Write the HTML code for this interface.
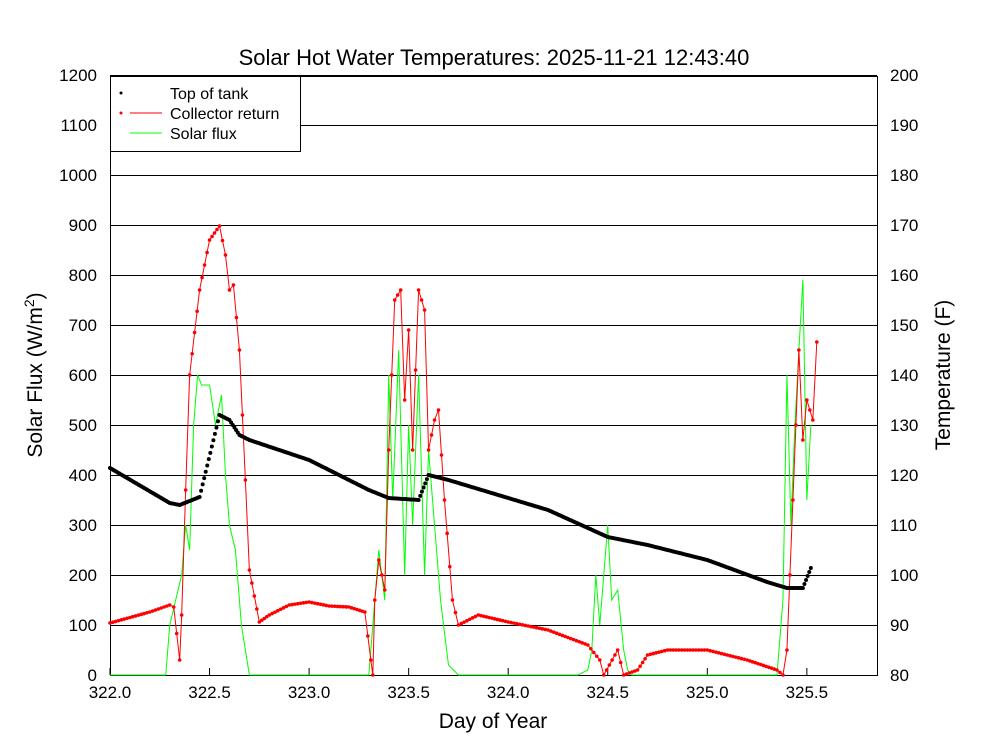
<!DOCTYPE html>
<html><head><meta charset="utf-8"><style>
body{margin:0;background:#fff}
svg text{font-family:"Liberation Sans",sans-serif;fill:#000}
</style></head><body>
<svg id="c" width="988" height="751" xmlns="http://www.w3.org/2000/svg"></svg>
<script>
const xTicks=[322.0,322.5,323.0,323.5,324.0,324.5,325.0,325.5];
const yTicks=[0,100,200,300,400,500,600,700,800,900,1000,1100,1200];
const y2Ticks=[80,90,100,110,120,130,140,150,160,170,180,190,200];
const tankX=[322.0,322.3,322.35,322.45,322.55,322.6,322.65,322.7,323.0,323.3,323.4,323.55,323.6,323.7,323.9,324.2,324.5,324.7,325.0,325.3,325.4,325.48,325.52];
const tankF=[121.4,114.4,114,115.6,132,131,128,127,123,117,115.4,115,120,119,116.6,113,107.6,106,103,98.6,97.4,97.4,101.4];
const collX=[322.0,322.2,322.3,322.32,322.35,322.36,322.38,322.4,322.45,322.5,322.55,322.58,322.6,322.62,322.65,322.68,322.7,322.75,322.8,322.9,323.0,323.1,323.2,323.28,323.31,323.32,323.33,323.35,323.38,323.4,323.43,323.46,323.48,323.5,323.52,323.55,323.58,323.6,323.63,323.65,323.68,323.72,323.75,323.85,324.0,324.2,324.4,324.46,324.48,324.55,324.58,324.65,324.7,324.8,325.0,325.2,325.35,325.38,325.4,325.43,325.46,325.48,325.5,325.53,325.55];
const collF=[90.4,92.6,94,93.6,83,92,117,140,157,167,169.8,164,157,158,145,119,101,90.6,92,94,94.6,93.8,93.6,92.6,83,80,95,103,97,125,155,157,135,149,125,157,153,125,131,133,115,95,90,92,90.6,89,86,83,80,85,80,81,84,85,85,83,81,80,85,115,145,127,135,131,146.6];
const fluxX=[322.0,322.28,322.3,322.33,322.36,322.38,322.4,322.42,322.44,322.46,322.5,322.53,322.56,322.58,322.6,322.63,322.66,322.7,323.3,323.32,323.35,323.38,323.4,323.42,323.45,323.48,323.5,323.52,323.55,323.58,323.6,323.63,323.66,323.7,323.75,324.35,324.4,324.42,324.44,324.46,324.5,324.52,324.55,324.58,324.6,324.62,325.35,325.38,325.4,325.42,325.44,325.46,325.48,325.5,325.52];
const fluxV=[0,0,100,150,200,300,250,500,600,580,580,500,560,400,300,250,100,0,0,100,250,150,600,350,650,200,500,300,600,200,450,300,150,20,0,0,10,50,200,100,300,150,170,50,10,0,0,150,600,300,500,650,790,350,500];
const L=110,R=877,T=76,B=675;
const sx=d=>L+(d-322)*199.1;
const sy=v=>B-v*0.5;
const sy2=f=>B-(f-80)*5;
const svg=document.getElementById('c');
const NS='http://www.w3.org/2000/svg';
function mk(tag,at,txt){const e=document.createElementNS(NS,tag);for(const k in at)e.setAttribute(k,at[k]);if(txt!==undefined)e.textContent=txt;svg.appendChild(e);return e;}
yTicks.forEach(v=>{
 const g=mk('line',{x1:L,x2:R,y1:sy(v)+0.5,y2:sy(v)+0.5,stroke:'#000','stroke-width':1});
 
 
 const t=mk('text',{x:L-13,y:sy(v)+6,'text-anchor':'end','font-size':17},String(v));
 
 
});
y2Ticks.forEach(v=>{
 const t=mk('text',{x:R+13,y:sy2(v)+6,'font-size':17},String(v));
 
 
});
xTicks.forEach(v=>{
 const t=mk('text',{x:sx(v),y:B+23,'text-anchor':'middle','font-size':17},v.toFixed(1));
 
 
 const k=mk('line',{x1:sx(v),x2:sx(v),y1:B,y2:B-7,stroke:'#000'});
 
 
});
const fr=mk('rect',{x:L+0.5,y:T+0.5,width:R-L,height:B-T,fill:'none',stroke:'#000'});


const fl=mk('polyline',{points:fluxX.map((x,i)=>sx(x)+','+sy(fluxV[i])).join(' '),fill:'none',stroke:'#00ff00','stroke-width':1});


const cl=mk('polyline',{points:collX.map((x,i)=>sx(x)+','+sy2(collF[i])).join(' '),fill:'none',stroke:'#ff0000','stroke-width':1});


function dense(xs,ys,step){const out=[];for(let i=0;i<xs.length-1;i++){const n=Math.max(1,Math.round((xs[i+1]-xs[i])/step));for(let j=0;j<n;j++){const t=j/n;out.push([xs[i]+(xs[i+1]-xs[i])*t,ys[i]+(ys[i+1]-ys[i])*t]);}}out.push([xs[xs.length-1],ys[ys.length-1]]);return out;}
dense(collX,collF,0.014).forEach(p=>{const c=mk('circle',{cx:sx(p[0]),cy:sy2(p[1]),r:1.8,fill:'#ff0000'});
 
 });
dense(tankX,tankF,0.008).forEach(p=>{const c=mk('circle',{cx:sx(p[0]),cy:sy2(p[1]),r:2,fill:'#000'});
 
 });
</script>
<svg style="position:absolute;left:0;top:0" width="988" height="751" xmlns="http://www.w3.org/2000/svg">
<text x="494" y="65" text-anchor="middle" font-size="22" font-family="Liberation Sans">Solar Hot Water Temperatures: 2025-11-21 12:43:40</text>
<text x="493" y="728" text-anchor="middle" font-size="21" font-family="Liberation Sans">Day of Year</text>
<text transform="translate(42,375) rotate(-90)" text-anchor="middle" font-size="21" font-family="Liberation Sans">Solar Flux (W/m<tspan dy="-8" font-size="14">2</tspan><tspan dy="8">)</tspan></text>
<text transform="translate(950,375) rotate(-90)" text-anchor="middle" font-size="21" font-family="Liberation Sans">Temperature (F)</text>
<g>
<rect x="110.5" y="76.5" width="190" height="75" fill="#fff" stroke="#000"/>
<circle cx="121" cy="93" r="1.5" fill="#000"/>
<text x="170" y="99" font-size="16" font-family="Liberation Sans">Top of tank</text>
<circle cx="121" cy="113" r="1.5" fill="#f00"/>
<line x1="130" x2="162" y1="113" y2="113" stroke="#f00"/>
<text x="170" y="119" font-size="16" font-family="Liberation Sans">Collector return</text>
<line x1="130" x2="162" y1="133" y2="133" stroke="#0f0"/>
<text x="170" y="139" font-size="16" font-family="Liberation Sans">Solar flux</text>
</g>
</svg>
</body></html>
